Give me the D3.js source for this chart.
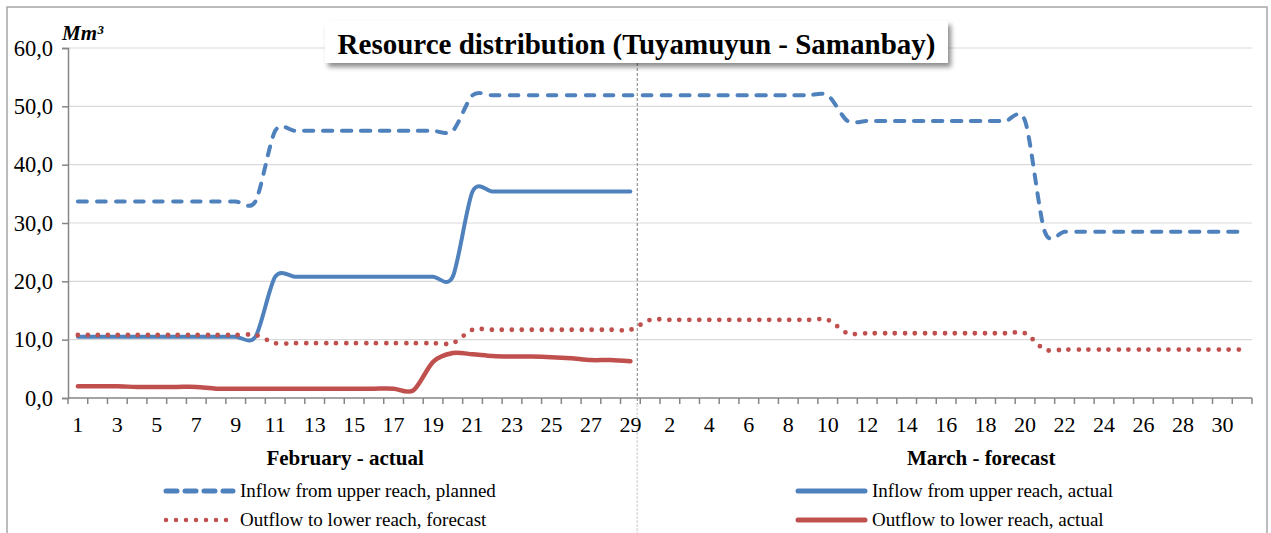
<!DOCTYPE html>
<html>
<head>
<meta charset="utf-8">
<script src="https://cdn.jsdelivr.net/npm/d3@7"></script>
<style>
  body { margin: 0; background: #fff; }
  svg { display: block; font-family: "Liberation Serif", "Times New Roman", serif; }
</style>
</head>
<body>
<div id="chart"></div>
<script>
const febDays = [1,2,3,4,5,6,7,8,9,10,11,12,13,14,15,16,17,18,19,20,21,22,23,24,25,26,27,28,29]
const marDays = [1,2,3,4,5,6,7,8,9,10,11,12,13,14,15,16,17,18,19,20,21,22,23,24,25,26,27,28,29,30,31]

// Feb 1..29 then Mar 1..31
const inflowPlanned = [
  33.7,33.7,33.7,33.7,33.7,33.7,33.7,33.7,33.7,33.7,
  45.8,45.8,45.8,45.8,45.8,45.8,45.8,45.8,45.8,45.8,
  51.9,51.9,51.9,51.9,51.9,51.9,51.9,51.9,51.9,
  51.9,51.9,51.9,51.9,51.9,51.9,51.9,51.9,51.9,51.9,
  47.5,47.5,47.5,47.5,47.5,47.5,47.5,47.5,47.5,47.5,
  28.5,28.5,28.5,28.5,28.5,28.5,28.5,28.5,28.5,28.5,28.5
]
const inflowActual = [
  10.5,10.5,10.5,10.5,10.5,10.5,10.5,10.5,10.5,10.5,
  20.8,20.8,20.8,20.8,20.8,20.8,20.8,20.8,20.8,20.8,
  35.4,35.4,35.4,35.4,35.4,35.4,35.4,35.4,35.4
]
const outflowForecast = [
  10.8,10.8,10.8,10.8,10.8,10.8,10.8,10.8,10.8,10.8,
  9.4,9.4,9.4,9.4,9.4,9.4,9.4,9.4,9.4,9.4,
  11.7,11.7,11.7,11.7,11.7,11.7,11.7,11.7,11.7,
  13.4,13.4,13.4,13.4,13.4,13.4,13.4,13.4,13.4,13.4,
  11.1,11.1,11.1,11.1,11.1,11.1,11.1,11.1,11.1,11.1,
  8.3,8.3,8.3,8.3,8.3,8.3,8.3,8.3,8.3,8.3,8.3
]
const outflowActual = [
  2.0,2.0,2.0,1.9,1.9,1.9,1.9,1.6,1.6,1.6,
  1.6,1.6,1.6,1.6,1.6,1.6,1.6,1.3,6.2,7.7,
  7.5,7.2,7.1,7.1,7.0,6.8,6.5,6.5,6.3
]
const yTicks = [0,10,20,30,40,50,60]
const monthLabels = ["February - actual", "March - forecast"]
const seriesNames = [
  "Inflow from upper reach, planned",
  "Inflow from upper reach, actual",
  "Outflow to lower reach, forecast",
  "Outflow to lower reach, actual"
]

const width = 1271, height = 533
const margin = {top: 48, right: 19, bottom: 135, left: 68}
const blue = "#4f81bd", red = "#c0504d"

const categories = febDays.map(d => "F" + d).concat(marDays.map(d => "M" + d))
const labelOf = k => k.slice(1)

const svg = d3.select("#chart").append("svg")
  .attr("width", width)
  .attr("height", height)

const defs = svg.append("defs")
const shadow = defs.append("filter").attr("id", "shadow")
  .attr("x", "-5%").attr("y", "-30%").attr("width", "110%").attr("height", "170%")
shadow.append("feDropShadow")
  .attr("dx", 3).attr("dy", 4).attr("stdDeviation", 2.5)
  .attr("flood-color", "#000").attr("flood-opacity", 0.45)

// outer frame
svg.append("rect")
  .attr("x", 7).attr("y", 7)
  .attr("width", 1260).attr("height", 540)
  .attr("fill", "none").attr("stroke", "#a6a6a6").attr("stroke-width", 1.5)

const x = d3.scaleBand()
  .domain(categories)
  .range([margin.left, width - margin.right])

const y = d3.scaleLinear()
  .domain([0, 60])
  .range([height - margin.bottom, margin.top])

const bw = x.bandwidth()
const xc = k => x(k) + bw / 2

// gridlines
svg.append("g")
  .selectAll("line")
  .data(yTicks.slice(1))
  .enter()
  .append("line")
  .attr("x1", margin.left).attr("x2", width - margin.right)
  .attr("y1", d => y(d)).attr("y2", d => y(d))
  .attr("stroke", "#d9d9d9").attr("stroke-width", 1.2)

// month separator
const sepX = x("M1") - 3
svg.append("line")
  .attr("x1", sepX).attr("x2", sepX)
  .attr("y1", y(60)).attr("y2", y(0) + 6)
  .attr("stroke", "#7f7f7f").attr("stroke-width", 1)
  .attr("stroke-dasharray", "3,2")
svg.append("line")
  .attr("x1", sepX).attr("x2", sepX)
  .attr("y1", y(0) + 6).attr("y2", height)
  .attr("stroke", "#e3e3e3").attr("stroke-width", 2)
  .attr("stroke-dasharray", "3,1")

// y axis
const yAxis = svg.append("g")
  .attr("transform", `translate(${margin.left},0)`)
  .call(d3.axisLeft(y)
    .tickValues(yTicks)
    .tickSize(6)
    .tickPadding(9)
    .tickFormat(d => d3.format(".1f")(d).replace(".", ",")))
yAxis.select(".domain").attr("stroke", "#868686").attr("stroke-width", 1.5)
yAxis.selectAll(".tick line").attr("stroke", "#868686").attr("stroke-width", 1.5)
yAxis.selectAll(".tick text")
  .attr("font-size", 22.5).attr("fill", "#000")
  .attr("font-family", "Liberation Serif, serif")

// x axis: line, boundary ticks, labels
const xAxisG = svg.append("g")
xAxisG.append("line")
  .attr("x1", margin.left).attr("x2", width - margin.right)
  .attr("y1", y(0)).attr("y2", y(0))
  .attr("stroke", "#868686").attr("stroke-width", 1.5)
xAxisG.selectAll("line.tk")
  .data(categories.concat(["end"]))
  .enter()
  .append("line")
  .attr("class", "tk")
  .attr("x1", d => d === "end" ? x.range()[1] : x(d))
  .attr("x2", d => d === "end" ? x.range()[1] : x(d))
  .attr("y1", y(0)).attr("y2", y(0) + 6)
  .attr("stroke", "#868686").attr("stroke-width", 1.5)
xAxisG.selectAll("text")
  .data(categories.filter((d, i) => i % 2 === 0))
  .enter()
  .append("text")
  .attr("x", d => xc(d))
  .attr("y", y(0) + 34)
  .attr("text-anchor", "middle")
  .attr("font-size", 22)
  .text(labelOf)

// month titles (placed like the original text boxes)
const monthX = [(x("F1") + x("F29") + bw) / 2 - 9, (x("M1") + x("M31") + bw) / 2 + 35]
svg.selectAll("text.month")
  .data(monthLabels)
  .enter()
  .append("text")
  .attr("class", "month")
  .attr("x", (d, i) => monthX[i])
  .attr("y", 465)
  .attr("text-anchor", "middle")
  .attr("font-size", 21)
  .attr("font-weight", "bold")
  .text(d => d)

// unit label
svg.append("text")
  .attr("x", 62).attr("y", 40)
  .attr("font-size", 21)
  .attr("font-weight", "bold")
  .attr("font-style", "italic")
  .text("Mm³")

// lines
const line = d3.line()
  .defined(d => d != null)
  .x(d => xc(d.k))
  .y(d => y(d.v))
  .curve(d3.curveCardinal.tension(0.15))

const toPts = arr => arr.map((v, i) => ({k: categories[i], v: v}))

const series = [
  {data: inflowPlanned, color: blue, width: 4, dash: "9,10"},
  {data: inflowActual, color: blue, width: 4, dash: null},
  {data: outflowForecast, color: red, width: 4.8, dash: "0,10"},
  {data: outflowActual, color: red, width: 4.5, dash: null}
]

svg.append("g")
  .selectAll("path")
  .data(series)
  .enter()
  .append("path")
  .attr("d", s => line(toPts(s.data)))
  .attr("fill", "none")
  .attr("stroke", s => s.color)
  .attr("stroke-width", s => s.width)
  .attr("stroke-linecap", "round")
  .attr("stroke-dasharray", s => s.dash)

// title box
const title = svg.append("g")
title.append("rect")
  .attr("x", 325).attr("y", 21)
  .attr("width", 623).attr("height", 42)
  .attr("fill", "#fff")
  .attr("filter", "url(#shadow)")
title.append("text")
  .attr("x", 636.5).attr("y", 54)
  .attr("text-anchor", "middle")
  .attr("font-size", 29)
  .attr("font-weight", "bold")
  .text("Resource distribution (Tuyamuyun - Samanbay)")

// legend
const legendPos = [
  {lx: 166, ly: 491}, {lx: 798, ly: 491},
  {lx: 166, ly: 520}, {lx: 798, ly: 520}
]
const legend = svg.append("g")
  .selectAll("g")
  .data(series)
  .enter()
  .append("g")
  .attr("transform", (s, i) => `translate(${legendPos[i].lx},${legendPos[i].ly})`)

legend.append("line")
  .attr("x1", 0)
  .attr("x2", (s, i) => i === 2 ? 62 : 67)
  .attr("y1", 0).attr("y2", 0)
  .attr("stroke", s => s.color)
  .attr("stroke-width", s => s.dash === "0,10" ? 4.5 : 5)
  .attr("stroke-linecap", "round")
  .attr("stroke-dasharray", (s, i) => i === 0 ? "11,8" : s.dash)

legend.append("text")
  .attr("x", 74)
  .attr("y", 6)
  .attr("font-size", 19)
  .text((s, i) => seriesNames[i])
</script>
</body>
</html>
